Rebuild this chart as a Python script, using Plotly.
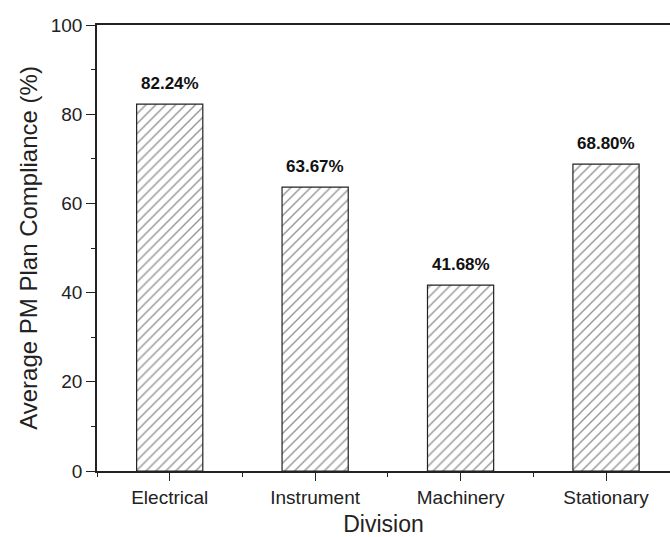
import plotly.graph_objects as go

# Average preventive-maintenance plan compliance by division
divisions = ["Electrical", "Instrument", "Machinery", "Stationary"]
compliance = [82.24, 63.67, 41.68, 68.80]
y_ticks = [0, 20, 40, 60, 80, 100]

positions = list(range(len(divisions)))
labels = [f"{v:.2f}%" for v in compliance]

FONT = "Liberation Sans, Arial, sans-serif"

fig = go.Figure()
fig.add_trace(go.Bar(
    x=positions,
    y=compliance,
    width=0.455,
    marker=dict(
        color="white",
        line=dict(color="#222222", width=1.2),
        pattern=dict(shape="/", fgcolor="#2a2a2a", bgcolor="white",
                     size=7, solidity=0.2),
    ),
    showlegend=False,
    hoverinfo="skip",
))

for xi, v, lab in zip(positions, compliance, labels):
    fig.add_annotation(
        x=xi, y=v, text=f"<b>{lab}</b>", showarrow=False,
        yanchor="bottom", yshift=9,
        font=dict(family=FONT, size=17, color="#111111"),
    )

fig.update_layout(
    width=670, height=537,
    margin=dict(l=97, r=0, t=25, b=66),
    paper_bgcolor="white", plot_bgcolor="white",
    font=dict(family=FONT, color="#222222"),
)

fig.update_xaxes(
    range=[-0.5, 3.44],
    tickvals=positions, ticktext=divisions,
    showline=True, linecolor="#222222", linewidth=1.6, mirror=True,
    ticks="outside", ticklen=8, tickwidth=1.4, tickcolor="#222222",
    minor=dict(tickvals=[-0.5, 0.5, 1.5, 2.5], ticks="outside",
               ticklen=4, tickwidth=1.4, tickcolor="#222222"),
    showgrid=False, zeroline=False,
    tickfont=dict(family=FONT, size=19, color="#222222"),
    title=dict(text="Division", standoff=10,
               font=dict(family=FONT, size=23, color="#222222")),
)

fig.update_yaxes(
    range=[0, 100],
    tickvals=y_ticks,
    showline=True, linecolor="#222222", linewidth=1.6,
    ticks="outside", ticklen=9, tickwidth=1.4, tickcolor="#222222",
    minor=dict(dtick=10, tick0=0, ticks="outside",
               ticklen=4, tickwidth=1.4, tickcolor="#222222"),
    showgrid=False, zeroline=False,
    tickfont=dict(family=FONT, size=19, color="#222222"),
    title=dict(text="Average PM Plan Compliance (%)", standoff=6,
               font=dict(family=FONT, size=24, color="#222222")),
)

fig.write_html("out.html")
